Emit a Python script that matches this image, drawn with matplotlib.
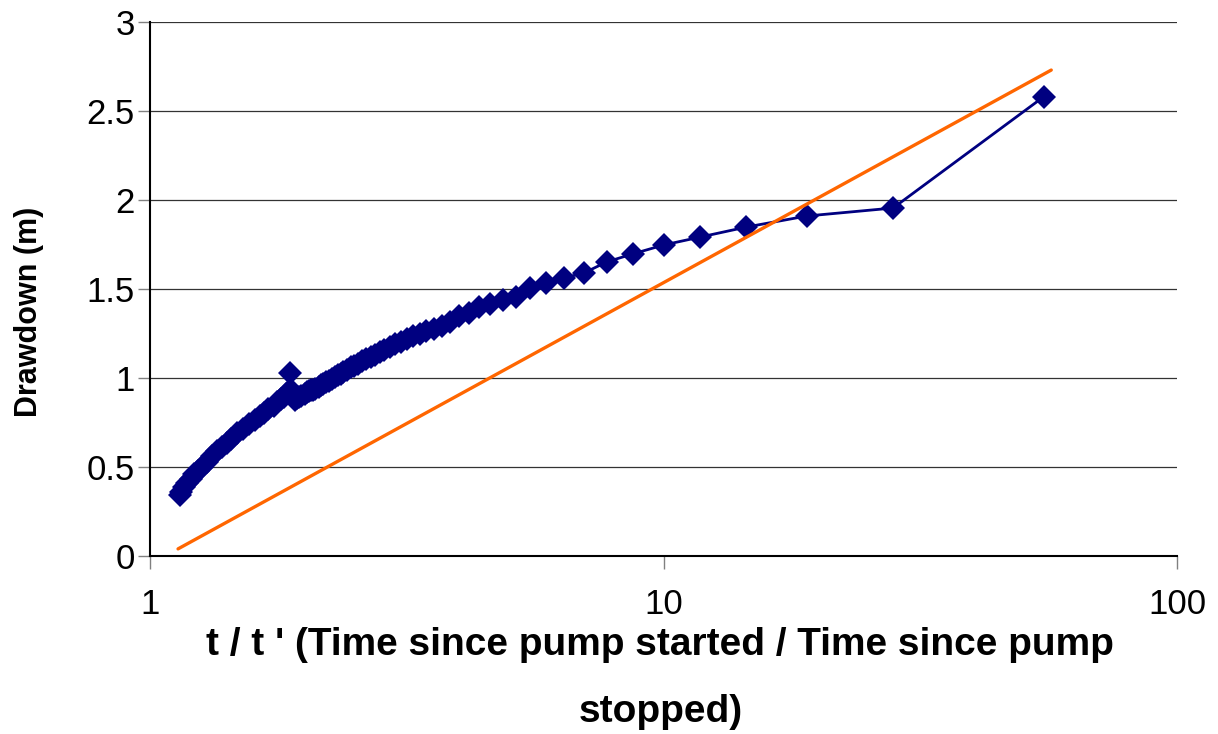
import matplotlib
matplotlib.use("Agg")
import matplotlib.pyplot as plt
from matplotlib.ticker import FixedLocator, FixedFormatter, NullLocator

plt.rcParams["font.family"] = ["Liberation Sans", "DejaVu Sans"]

# recovery test data: t/t' and residual drawdown (m)
ratio = [1.143, 1.15, 1.165, 1.18, 1.20, 1.22, 1.24, 1.26, 1.29, 1.32,
         1.35, 1.38, 1.41, 1.44, 1.48, 1.52, 1.56, 1.60, 1.64, 1.67,
         1.70, 1.74, 1.77, 1.80, 1.82, 1.84, 1.857, 1.871, 1.885, 1.90,
         1.915, 1.93, 1.95, 1.97, 2.00, 2.02, 2.04, 2.06, 2.08, 2.10,
         2.13, 2.15, 2.17, 2.20, 2.23, 2.26, 2.29, 2.32, 2.35, 2.38,
         2.42, 2.46, 2.50, 2.54, 2.59, 2.64, 2.69, 2.74, 2.80, 2.86,
         2.93, 3.00, 3.08, 3.16, 3.25, 3.35, 3.45, 3.57, 3.70, 3.84,
         4.00, 4.18, 4.38, 4.60, 4.86, 5.15, 5.50, 5.91, 6.40, 7.00,
         7.75, 8.71, 10.0, 11.8, 14.5, 19.0, 28.0, 55.0]
drawdown = [0.345, 0.36, 0.385, 0.41, 0.435, 0.46, 0.48, 0.50, 0.53, 0.56,
            0.59, 0.615, 0.635, 0.66, 0.69, 0.715, 0.74, 0.765, 0.785, 0.805,
            0.825, 0.845, 0.865, 0.88, 0.895, 0.91, 0.92, 1.03, 0.93, 0.895,
            0.876, 0.885, 0.893, 0.90, 0.91, 0.92, 0.925, 0.93, 0.935, 0.94,
            0.95, 0.96, 0.965, 0.975, 0.985, 0.995, 1.005, 1.015, 1.025, 1.035,
            1.045, 1.06, 1.07, 1.08, 1.095, 1.105, 1.12, 1.13, 1.145, 1.16,
            1.175, 1.19, 1.205, 1.22, 1.235, 1.25, 1.265, 1.275, 1.29, 1.315,
            1.348, 1.365, 1.399, 1.416, 1.438, 1.455, 1.506, 1.534, 1.562, 1.590,
            1.652, 1.697, 1.747, 1.792, 1.848, 1.91, 1.955, 2.58]

# straight-line fit (end points)
fit_ratio = [1.134, 56.9]
fit_drawdown = [0.04, 2.73]

y_ticks = [0, 0.5, 1, 1.5, 2, 2.5, 3]
y_labels = ["0", "0.5", "1", "1.5", "2", "2.5", "3"]
x_ticks = [1, 10, 100]
x_labels = ["1", "10", "100"]

fig = plt.figure(figsize=(12.18, 7.34), dpi=100)
ax = fig.add_axes([150 / 1218, 1 - 556 / 734, 1027 / 1218, 534 / 734])

ax.plot(ratio, drawdown, color="#000080", lw=2.0, marker="D",
        markersize=12, markeredgewidth=0, zorder=3)
ax.plot(fit_ratio, fit_drawdown, color="#FF6600", lw=2.4, zorder=4,
        solid_capstyle="round")

ax.set_xscale("log")
ax.set_xlim(1, 100)
ax.set_ylim(0, 3)

ax.xaxis.set_major_locator(FixedLocator(x_ticks))
ax.xaxis.set_major_formatter(FixedFormatter(x_labels))
ax.xaxis.set_minor_locator(NullLocator())
ax.yaxis.set_major_locator(FixedLocator(y_ticks))
ax.yaxis.set_major_formatter(FixedFormatter(y_labels))

ax.grid(axis="y", color="#333333", lw=0.9)
ax.set_axisbelow(True)
for side in ("top", "right"):
    ax.spines[side].set_visible(False)
ax.spines["left"].set_linewidth(1.5)
ax.spines["bottom"].set_linewidth(1.5)

ax.tick_params(axis="y", length=9, width=1, color="#808080", pad=2,
               labelsize=25)
ax.tick_params(axis="x", length=9, width=1, color="#808080", pad=14,
               labelsize=25)

ax.set_ylabel("Drawdown (m)", fontsize=22, fontweight="bold")
ax.yaxis.set_label_coords(-0.103, 0.457)
ax.set_xlabel("t / t ' (Time since pump started / Time since pump\nstopped)",
              fontsize=28, fontweight="bold", linespacing=2.1)
ax.xaxis.set_label_coords(0.497, -0.133)

fig.savefig("out.png", dpi=100)
